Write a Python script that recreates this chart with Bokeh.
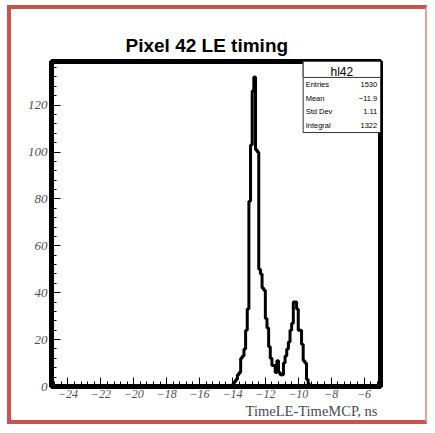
from bokeh.plotting import figure
from bokeh.models import FixedTicker, Label, BoxAnnotation, Range1d, Title
from bokeh.embed import file_html
from bokeh.resources import INLINE

# Histogram h42: 200 bins of 0.1 ns on [-25, -5]; only the populated stretch is listed
x_lo, x_hi = -25.0, -5.0
bin_width = 0.1
first_filled_edge = -14.0
counts_filled = [
    1, 2, 3, 5, 6, 12, 13, 16, 24,
    33, 79, 103, 126, 132, 101, 100, 50, 48, 42,
    41, 29, 25, 17, 12, 9, 9, 6, 11, 6,
    5, 5, 10, 13, 16, 19, 24, 27, 36, 36,
    33, 24, 24, 18, 11, 10, 3, 1,
]
y_top = 138.6

x_ticks = [-24, -22, -20, -18, -16, -14, -12, -10, -8, -6]
x_tick_labels = ["\u221224", "\u221222", "\u221220", "\u221218", "\u221216",
                 "\u221214", "\u221212", "\u221210", "\u22128", "\u22126"]
y_ticks = [0, 20, 40, 60, 80, 100, 120]

title_text = "Pixel 42 LE timing"
x_title = "TimeLE-TimeMCP, ns"
stats_name = "hl42"
stats_keys = ["Entries", "Mean", "Std Dev", "Integral"]
stats_vals = ["1530", "\u221211.9", "1.11", "1322"]

# full set of bin contents
n_bins = int(round((x_hi - x_lo) / bin_width))
start = int(round((first_filled_edge - x_lo) / bin_width))
counts = [0] * n_bins
for i, c in enumerate(counts_filled):
    counts[start + i] = c
edges = [x_lo + i * bin_width for i in range(n_bins + 1)]
step_y = counts + [counts[-1]]

p = figure(width=420, height=419,
           x_range=Range1d(x_lo, x_hi), y_range=Range1d(0, y_top),
           output_backend="svg", toolbar_location=None,
           min_border_left=40, min_border_right=51,
           min_border_top=52, min_border_bottom=42,
           background_fill_color="white", border_fill_color="white")

p.styles = {"margin-left": "7px", "margin-top": "5px",
            "border-left": "4px solid #c9534f", "border-top": "4px solid #c9534f",
            "border-bottom": "4px solid #c9534f", "border-right": "2px solid #e0a3a0"}

p.step(edges, step_y, mode="after", line_color="black", line_width=3)

p.outline_line_color = "black"
p.outline_line_width = 5
p.outline_line_alpha = 1
p.xgrid.visible = False
p.ygrid.visible = False

p.title.text = title_text
p.title.align = "left"
p.title.offset = 74
p.title.text_font = "Liberation Sans"
p.title.text_font_style = "bold"
p.title.text_font_size = "19px"
p.title.text_color = "black"
p.title.standoff = 11

x_minor = [round(-24 + 0.4 * k, 2) for k in range(-2, 48) if -25 < -24 + 0.4 * k < -5]
y_minor = [4 * k for k in range(0, 35) if 4 * k < y_top]

ax = p.xaxis[0]
ax.ticker = FixedTicker(ticks=x_ticks, minor_ticks=x_minor)
ax.major_label_overrides = dict(zip(x_ticks, x_tick_labels))
ay = p.yaxis[0]
ay.ticker = FixedTicker(ticks=y_ticks, minor_ticks=y_minor)

for a in (ax, ay):
    a.axis_line_color = "black"
    a.axis_line_width = 1
    a.major_tick_in = 9
    a.major_tick_out = 0
    a.minor_tick_in = 5
    a.minor_tick_out = 0
    a.major_tick_line_color = "black"
    a.minor_tick_line_color = "black"
    a.major_label_text_font = "Liberation Serif"
    a.major_label_text_font_style = "italic"
    a.major_label_text_color = "#4d4e60"
ax.major_label_text_font_size = "12px"
ax.major_label_standoff = 3
ay.major_label_text_font_size = "13px"
ay.major_label_standoff = 4

# axis title, right-aligned under the x axis
p.add_layout(Title(text=x_title, align="right", offset=3, standoff=1,
                   text_font="Liberation Serif", text_font_style="normal",
                   text_font_size="14.5px", text_color="#4a4a55"), "below")

# statistics box in the top-right corner of the frame
box_left, box_right = -9.7, x_hi
box_bottom, header_bottom = 108.3, 131.8
p.add_layout(BoxAnnotation(left=box_left, right=box_right, bottom=box_bottom, top=y_top,
                           fill_color="white", fill_alpha=1,
                           line_color="#333333", line_width=1, line_alpha=1))
p.add_layout(BoxAnnotation(left=box_left, right=box_right, bottom=header_bottom, top=y_top,
                           fill_color="white", fill_alpha=1,
                           line_color="#333333", line_width=1, line_alpha=1))
p.add_layout(Label(x=(box_left + box_right) / 2, y=(header_bottom + y_top) / 2 - 1.0,
                   text=stats_name, text_align="center", text_baseline="middle",
                   text_font="Liberation Sans", text_font_size="12px", text_color="black"))
row_h = (header_bottom - box_bottom) / len(stats_keys)
for i, (k, v) in enumerate(zip(stats_keys, stats_vals)):
    yc = header_bottom - row_h * (i + 0.5)
    p.add_layout(Label(x=box_left + 0.15, y=yc, text=k, text_align="left",
                       text_baseline="middle", text_font="Liberation Sans",
                       text_font_size="7.5px", text_color="black"))
    p.add_layout(Label(x=box_right - 0.2, y=yc, text=v, text_align="right",
                       text_baseline="middle", text_font="Liberation Sans",
                       text_font_size="7.5px", text_color="black"))

open("out.html", "w").write(file_html(p, INLINE))
